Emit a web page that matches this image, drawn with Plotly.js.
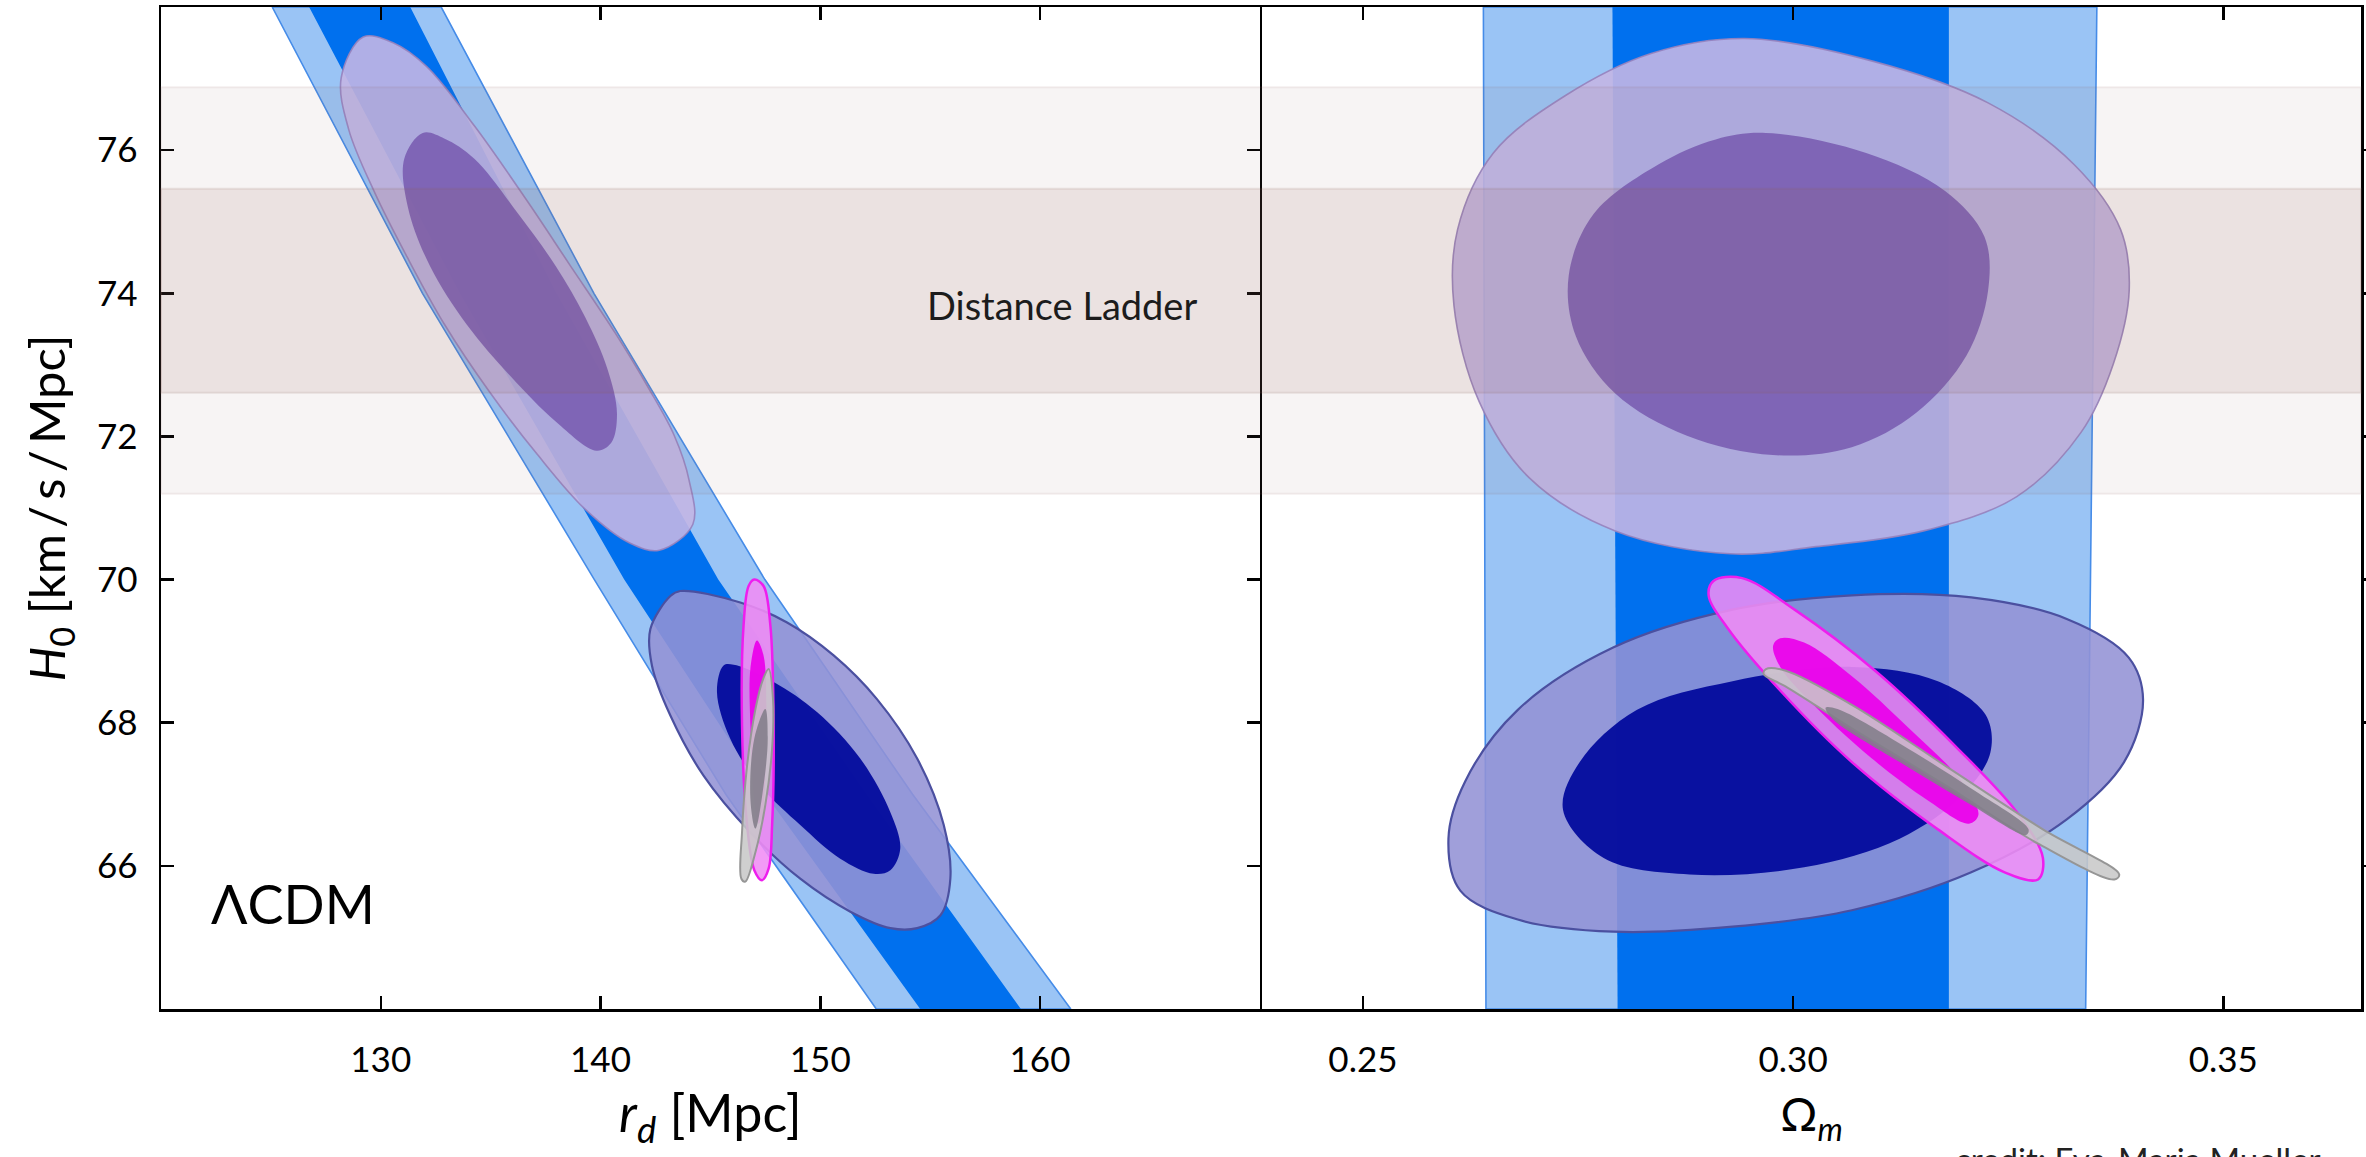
<!DOCTYPE html>
<html>
<head>
<meta charset="utf-8">
<script src="https://cdn.plot.ly/plotly-3.0.1.min.js"></script>
<style>html,body{margin:0;padding:0;background:#fff;} #chart{width:2366px;height:1157px;}</style>
</head>
<body>
<div id="chart"></div>
<script>
// ---------------- data ----------------
const H0_TICKS = [66, 68, 70, 72, 74, 76];
const RD_TICKS = [130, 140, 150, 160];
const OM_TICKS = [0.25, 0.30, 0.35];
const OM_TICK_LABELS = ['0.25', '0.30', '0.35'];

// Distance ladder H0 bands
const ladder2s = [71.2, 76.88];
const ladder1s = [72.61, 75.46];

// BAO band, left panel (r_d edges at given H0)
const baoL_H0     = [78, 74, 70, 67, 64];
const baoL_outerL = [125.06, 131.9, 139.72, 145.7, 152.55];
const baoL_innerL = [126.74, 133.6, 141.08, 147.5, 154.55];
const baoL_innerR = [131.34, 138.0, 145.36, 152.1, 159.13];
const baoL_outerR = [132.75, 139.7, 147.48, 154.2, 161.40];

// BAO band, right panel (Omega_m edges at given H0)
const baoR_H0     = [78, 64];
const baoR_outerL = [0.2640, 0.2643];
const baoR_innerL = [0.2790, 0.2796];
const baoR_innerR = [0.3181, 0.3181];
const baoR_outerR = [0.3353, 0.3340];

// Left panel contours (r_d, H0)
const lavL2_x = [129.20,130.56,132.08,134.26,136.62,138.64,140.66,142.18,143.36,144.03,144.20,142.68,141.33,139.31,137.12,134.93,132.91,131.23,129.72,128.54,128.20];
const lavL2_y = [77.58,77.50,77.17,76.34,75.31,74.38,73.45,72.68,72.01,71.39,70.77,70.41,70.51,70.98,71.75,72.63,73.56,74.49,75.41,76.29,77.01];
const lavL1_x = [131.91,132.91,134.26,136.28,137.96,139.31,140.32,140.75,140.49,139.82,137.96,135.94,133.92,132.24,131.23,131.07];
const lavL1_y = [76.24,76.16,75.88,75.10,74.38,73.66,72.94,72.32,71.91,71.80,72.21,72.83,73.56,74.38,75.21,75.88];
const navL2_x = [143.63,146.36,148.49,150.61,152.58,154.41,155.62,155.92,155.47,154.41,153.19,151.37,149.09,146.81,144.69,143.18,142.34,142.27,143.18];
const navL2_y = [69.84,69.68,69.40,68.94,68.33,67.50,66.57,65.82,65.31,65.13,65.13,65.36,65.82,66.47,67.26,68.10,68.80,69.31,69.77];
const navL1_x = [146.06,147.88,149.85,151.82,153.19,153.64,153.19,152.43,150.91,149.09,147.27,145.90,145.30,145.60];
const navL1_y = [68.81,68.57,68.15,67.50,66.75,66.24,65.94,65.89,66.10,66.57,67.12,67.78,68.43,68.80];
const magL2_x = [147.00,147.42,147.73,147.88,147.81,147.65,147.35,147.00,146.67,146.44,146.51,146.74];
const magL2_y = [70.00,69.91,69.36,67.96,66.57,65.96,65.80,65.94,66.57,67.96,69.36,69.91];
const magL1_x = [147.12,147.42,147.55,147.50,147.35,147.20,146.97,146.82,146.82];
const magL1_y = [69.15,68.94,68.19,67.26,66.66,66.59,67.03,67.96,68.75];
const grayL2_x = [147.65,147.85,147.81,147.50,147.05,146.59,146.41,146.44,146.67,147.05,147.40];
const grayL2_y = [68.75,68.33,67.64,66.85,66.19,65.78,65.82,66.47,67.40,68.19,68.61];
const grayL1_x = [147.50,147.61,147.42,147.05,146.82,147.00];
const grayL1_y = [68.19,67.78,67.12,66.52,66.94,67.78];

// Right panel contours (Omega_m, H0)
const lavR2_x = [0.29433,0.30933,0.32266,0.33265,0.33806,0.33906,0.33723,0.33348,0.32599,0.31515,0.30266,0.29266,0.27933,0.26934,0.26350,0.26058,0.26100,0.26516,0.27350,0.28349];
const lavR2_y = [77.56,77.24,76.66,75.80,74.89,74.04,73.02,72.06,71.16,70.68,70.46,70.36,70.68,71.42,72.49,73.83,74.89,75.96,76.76,77.35];
const lavR1_x = [0.29682,0.30849,0.31766,0.32224,0.32266,0.32015,0.31431,0.30682,0.29766,0.28766,0.27933,0.27475,0.27392,0.27683,0.28433,0.29100];
const lavR1_y = [76.24,75.96,75.43,74.79,74.04,73.13,72.33,71.85,71.74,72.01,72.60,73.40,74.25,75.11,75.80,76.15];
const navR2_x = [0.30683,0.32070,0.33180,0.33901,0.34067,0.33846,0.33180,0.32070,0.30683,0.29296,0.27908,0.26800,0.26134,0.25994,0.26188,0.26800,0.27908,0.29296];
const navR2_y = [69.78,69.75,69.45,68.91,68.32,67.45,66.65,65.91,65.38,65.15,65.08,65.25,65.65,66.38,67.18,68.18,69.05,69.58];
const navR1_x = [0.30683,0.31682,0.32237,0.32292,0.31959,0.31238,0.30128,0.28797,0.27798,0.27326,0.27520,0.28186,0.29296];
const navR1_y = [68.78,68.58,68.11,67.58,66.98,66.38,65.98,65.88,66.11,66.78,67.45,68.18,68.58];
const magR2_x = [0.29074,0.29407,0.30017,0.30960,0.31904,0.32625,0.32903,0.32847,0.32458,0.31682,0.30683,0.29850,0.29240,0.29018];
const magR2_y = [69.98,70.02,69.58,68.72,67.65,66.71,66.11,65.81,65.91,66.51,67.45,68.45,69.32,69.78];
const magR1_x = [0.29850,0.30128,0.30683,0.31349,0.31959,0.32153,0.32043,0.31571,0.30905,0.30295,0.29850,0.29768];
const magR1_y = [69.18,69.12,68.65,67.92,67.18,66.71,66.59,66.91,67.51,68.18,68.78,69.08];
const grayR2_x = [0.29684,0.29906,0.30683,0.31792,0.32903,0.33790,0.33734,0.32847,0.31792,0.30683,0.29906,0.29657];
const grayR2_y = [68.75,68.73,68.25,67.38,66.51,65.88,65.81,66.31,67.11,67.92,68.51,68.68];
const grayR1_x = [0.30378,0.30516,0.31238,0.32070,0.32736,0.32709,0.32070,0.31238,0.30460];
const grayR1_y = [68.21,68.19,67.71,67.08,66.51,66.43,66.85,67.45,68.05];

// ---------------- styles ----------------
const FONT = 'Lato, "Liberation Sans", sans-serif';
const ST = {
  baoOuter: {fill: 'rgb(154,196,245)', line: 'rgb(70,140,232)', w: 1.6},
  baoInner: {fill: 'rgb(0,112,238)', line: 'rgba(0,0,0,0)', w: 0},
  lav2: {fill: 'rgba(195,182,228,0.9)', line: 'rgba(150,130,190,0.9)', w: 1.6},
  lav1: {fill: 'rgba(121,94,184,0.9)', line: 'rgba(0,0,0,0)', w: 0},
  nav2: {fill: 'rgba(147,146,213,0.88)', line: 'rgb(75,80,160)', w: 2.2},
  nav1: {fill: 'rgba(0,8,155,0.93)', line: 'rgba(0,0,0,0)', w: 0},
  mag2: {fill: 'rgba(240,140,245,0.88)', line: 'rgb(238,30,238)', w: 2.5},
  mag1: {fill: 'rgba(235,0,235,0.93)', line: 'rgba(0,0,0,0)', w: 0},
  gray2: {fill: 'rgba(200,200,200,0.88)', line: 'rgb(150,150,150)', w: 2},
  gray1: {fill: 'rgba(130,125,138,0.88)', line: 'rgba(0,0,0,0)', w: 0}
};

function closed(a) { return a.concat([a[0]]); }

function contour(xs, ys, xa, st) {
  return {
    type: 'scatter', mode: 'lines', xaxis: xa, yaxis: 'y',
    x: closed(xs), y: closed(ys), fill: 'toself', fillcolor: st.fill,
    line: {color: st.line, width: st.w, shape: 'spline', smoothing: 1},
    hoverinfo: 'skip', showlegend: false
  };
}

// band polygon: left edge (top->bottom) then right edge (bottom->top)
function band(leftEdge, rightEdge, h, xa, st) {
  const xs = leftEdge.concat(rightEdge.slice().reverse());
  const ys = h.concat(h.slice().reverse());
  return {
    type: 'scatter', mode: 'lines', xaxis: xa, yaxis: 'y',
    x: closed(xs), y: closed(ys), fill: 'toself', fillcolor: st.fill,
    line: {color: st.line, width: st.w, shape: 'linear'},
    hoverinfo: 'skip', showlegend: false
  };
}

const traces = [
  band(baoL_outerL, baoL_outerR, baoL_H0, 'x', ST.baoOuter),
  band(baoL_innerL, baoL_innerR, baoL_H0, 'x', ST.baoInner),
  band(baoR_outerL, baoR_outerR, baoR_H0, 'x2', ST.baoOuter),
  band(baoR_innerL, baoR_innerR, baoR_H0, 'x2', ST.baoInner),

  contour(lavL2_x, lavL2_y, 'x', ST.lav2),
  contour(lavL1_x, lavL1_y, 'x', ST.lav1),
  contour(navL2_x, navL2_y, 'x', ST.nav2),
  contour(navL1_x, navL1_y, 'x', ST.nav1),
  contour(magL2_x, magL2_y, 'x', ST.mag2),
  contour(magL1_x, magL1_y, 'x', ST.mag1),
  contour(grayL2_x, grayL2_y, 'x', ST.gray2),
  contour(grayL1_x, grayL1_y, 'x', ST.gray1),

  contour(lavR2_x, lavR2_y, 'x2', ST.lav2),
  contour(lavR1_x, lavR1_y, 'x2', ST.lav1),
  contour(navR2_x, navR2_y, 'x2', ST.nav2),
  contour(navR1_x, navR1_y, 'x2', ST.nav1),
  contour(magR2_x, magR2_y, 'x2', ST.mag2),
  contour(magR1_x, magR1_y, 'x2', ST.mag1),
  contour(grayR2_x, grayR2_y, 'x2', ST.gray2),
  contour(grayR1_x, grayR1_y, 'x2', ST.gray1)
];

const axisCommon = {
  showline: true, linecolor: '#000', linewidth: 2.5,
  ticks: 'inside', ticklen: 13, tickwidth: 2.5, tickcolor: '#000',
  showgrid: false, zeroline: false, fixedrange: true,
  tickfont: {family: FONT, size: 35, color: '#000'}
};

const ladderColor = 'rgba(144,99,94,';
const layout = {
  width: 2366, height: 1157,
  margin: {l: 161, r: 5, t: 7, b: 148, pad: 0},
  paper_bgcolor: '#fff', plot_bgcolor: '#fff',
  showlegend: false,
  font: {family: FONT, color: '#000'},
  xaxis: Object.assign({}, axisCommon, {
    domain: [0, 0.49943], range: [120, 170], anchor: 'y',
    tickvals: RD_TICKS, ticktext: RD_TICKS.map(String), mirror: 'ticks',
    ticklabelstandoff: 18,
    title: {text: '<i>r</i><sub><i>d</i></sub> [Mpc]', font: {family: FONT, size: 52, color: '#000'}, standoff: 18},
    automargin: false
  }),
  xaxis2: Object.assign({}, axisCommon, {
    domain: [0.50057, 1], range: [0.2383, 0.366], anchor: 'y',
    tickvals: OM_TICKS, ticktext: OM_TICK_LABELS, mirror: 'ticks',
    ticklabelstandoff: 18,
    title: {text: '\u03A9<sub><i>m</i></sub>', font: {family: FONT, size: 46, color: '#000'}, standoff: 22},
    automargin: false
  }),
  yaxis: Object.assign({}, axisCommon, {
    domain: [0, 1], range: [64, 78], anchor: 'x',
    tickvals: H0_TICKS, ticktext: H0_TICKS.map(String), mirror: 'allticks',
    ticklabelstandoff: 14,
    title: {text: '<i>H</i><sub>0</sub> [km\u2009/\u2009s\u2009/\u2009Mpc]', font: {family: FONT, size: 49, color: '#000'}, standoff: 16},
    automargin: false
  }),
  shapes: [
    {type: 'rect', xref: 'paper', yref: 'y', x0: 0, x1: 1, y0: ladder2s[0], y1: ladder2s[1],
     fillcolor: ladderColor + '0.07)', line: {color: ladderColor + '0.10)', width: 2}, layer: 'above'},
    {type: 'rect', xref: 'paper', yref: 'y', x0: 0, x1: 1, y0: ladder1s[0], y1: ladder1s[1],
     fillcolor: ladderColor + '0.12)', line: {color: ladderColor + '0.14)', width: 2}, layer: 'above'}
  ],
  annotations: [
    {text: 'Distance Ladder', xref: 'x', yref: 'y', x: 161.0, y: 73.83, showarrow: false,
     font: {family: FONT, size: 38, color: '#1c1c1c'}},
    {text: '\u039BCDM', xref: 'x', yref: 'y', x: 126.0, y: 65.47, showarrow: false,
     font: {family: FONT, size: 54, color: '#000'}},
    {text: 'credit: Eva-Maria Mueller', xref: 'paper', yref: 'paper', x: 0.8145, y: -0.128,
     xanchor: 'left', yanchor: 'top', showarrow: false,
     font: {family: FONT, size: 33, color: '#222'}}
  ]
};

Plotly.newPlot('chart', traces, layout, {staticPlot: true, displayModeBar: false});
</script>
</body>
</html>
